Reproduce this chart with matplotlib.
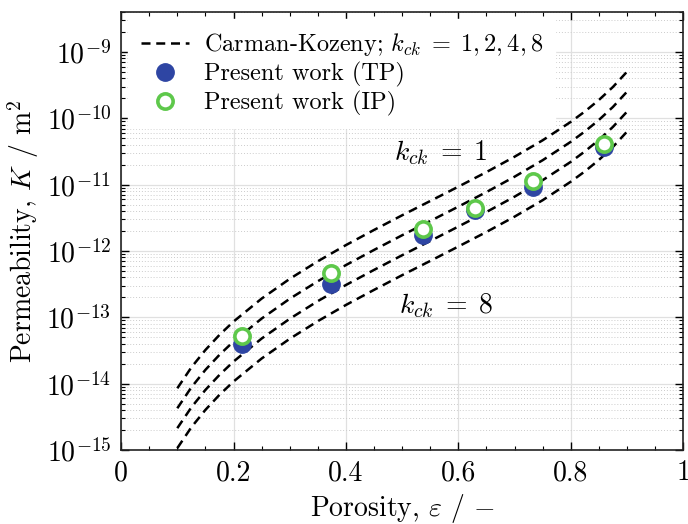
import numpy as np
import matplotlib
matplotlib.use("Agg")
import matplotlib.pyplot as plt
from matplotlib.ticker import LogLocator, MultipleLocator, NullFormatter

# ---- data ----
eps_ck = [0.10, 0.125, 0.15, 0.175, 0.20, 0.25, 0.30, 0.35, 0.40, 0.45, 0.50,
          0.55, 0.60, 0.65, 0.70, 0.75, 0.80, 0.825, 0.85, 0.875, 0.90]
K_ck1 = [8.54e-15, 1.765e-14, 3.23e-14, 5.45e-14, 8.65e-14, 1.92e-13, 3.81e-13, 7.02e-13, 1.23e-12,
         2.08e-12, 3.46e-12, 5.68e-12, 9.34e-12, 1.55e-11, 2.64e-11, 4.67e-11, 8.85e-11,
         1.268e-10, 1.89e-10, 2.97e-10, 5.04e-10]
K_ck2 = [4.27e-15, 8.83e-15, 1.62e-14, 2.73e-14, 4.33e-14, 9.60e-14, 1.91e-13, 3.51e-13, 6.15e-13,
         1.04e-12, 1.73e-12, 2.84e-12, 4.67e-12, 7.75e-12, 1.32e-11, 2.34e-11, 4.43e-11,
         6.34e-11, 9.45e-11, 1.485e-10, 2.52e-10]
K_ck4 = [2.14e-15, 4.41e-15, 8.08e-15, 1.36e-14, 2.16e-14, 4.80e-14, 9.53e-14, 1.76e-13, 3.08e-13,
         5.20e-13, 8.65e-13, 1.42e-12, 2.34e-12, 3.88e-12, 6.60e-12, 1.17e-11, 2.21e-11,
         3.17e-11, 4.73e-11, 7.43e-11, 1.26e-10]
K_ck8 = [1.07e-15, 2.21e-15, 4.04e-15, 6.81e-15, 1.08e-14, 2.40e-14, 4.76e-14, 8.78e-14, 1.54e-13,
         2.60e-13, 4.33e-13, 7.10e-13, 1.17e-12, 1.94e-12, 3.30e-12, 5.84e-12, 1.11e-11,
         1.585e-11, 2.36e-11, 3.71e-11, 6.30e-11]

eps_pts = [0.215, 0.373, 0.538, 0.630, 0.733, 0.860]
K_tp = [3.93e-14, 3.16e-13, 1.73e-12, 4.11e-12, 9.1e-12, 3.66e-11]
K_ip = [5.3e-14, 4.72e-13, 2.12e-12, 4.5e-12, 1.12e-11, 4.11e-11]

x_ticks = [0, 0.2, 0.4, 0.6, 0.8, 1]
x_ticklabels = ["0", "0.2", "0.4", "0.6", "0.8", "1"]

# ---- style ----
plt.rcParams['font.family'] = ['cmr10', 'DejaVu Serif']
plt.rcParams['mathtext.fontset'] = 'cm'
plt.rcParams['axes.formatter.use_mathtext'] = True

fig = plt.figure(figsize=(6.88, 5.24), dpi=100)
ax = fig.add_axes([0.176, 0.141, 0.817, 0.836])

dash = (3.6, 2.3)
first = True
for K in [K_ck1, K_ck2, K_ck4, K_ck8]:
    ax.plot(eps_ck, K, color='black', lw=1.8, dashes=dash, zorder=3,
            label=r"Carman-Kozeny; $k_{ck}\;=\;1,2,4,8$" if first else None)
    first = False

ax.plot(eps_pts, K_tp, 'o', ms=12.5, color='#2e45a3', mec='#2e45a3', zorder=4,
        label="Present work (TP)")
ax.plot(eps_pts, K_ip, 'o', ms=11, mfc='white', mec='#5ec84b', mew=2.6, zorder=5,
        label="Present work (IP)")

ax.set_yscale('log')
ax.set_xlim(0, 1)
ax.set_ylim(1e-15, 4e-9)
ax.set_xticks(x_ticks)
ax.set_xticklabels(x_ticklabels)
ax.xaxis.set_minor_locator(MultipleLocator(0.05))
ax.yaxis.set_major_locator(LogLocator(base=10, numticks=20))
ax.yaxis.set_minor_locator(LogLocator(base=10, subs=np.arange(2, 10), numticks=20))
ax.yaxis.set_minor_formatter(NullFormatter())

ax.grid(True, which='major', color='#e0e0e0', lw=0.9, zorder=0)
ax.grid(True, which='minor', axis='y', color='#cccccc', lw=0.7, ls=(0, (1, 2)), zorder=0)
ax.set_axisbelow(True)

ax.tick_params(which='both', direction='in', top=True, right=True, labelsize=20)
ax.tick_params(which='major', length=6, width=1.0, pad=7)
ax.tick_params(which='minor', length=3, width=0.8)
for s in ax.spines.values():
    s.set_linewidth(1.2)
    s.set_color('#222222')

ax.set_xlabel(r"Porosity, $\varepsilon$ / $-$", fontsize=20, labelpad=4)
ax.set_ylabel(r"Permeability, $K$ / m$^2$", fontsize=20, labelpad=4)

ax.text(0.568, 10**-10.52, r"$k_{ck}\;=\;1$", fontsize=20, ha='center', va='center', zorder=6)
ax.text(0.578, 10**-12.82, r"$k_{ck}\;=\;8$", fontsize=20, ha='center', va='center', zorder=6)

leg = ax.legend(loc='upper left', fontsize=17.5, frameon=True, fancybox=False,
                framealpha=1, edgecolor='white', borderaxespad=0.3, borderpad=0.5,
                handlelength=2.0, handletextpad=0.6, labelspacing=0.15)
leg.set_zorder(7)

fig.savefig("out.png", dpi=100)
